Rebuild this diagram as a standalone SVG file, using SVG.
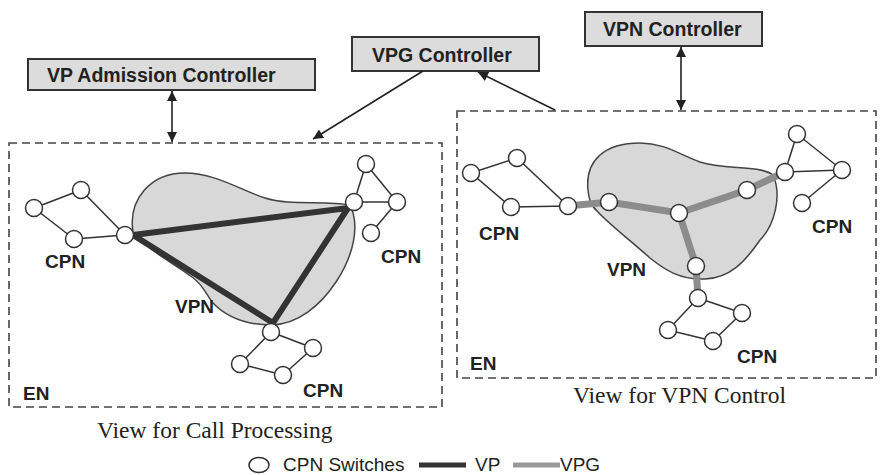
<svg xmlns="http://www.w3.org/2000/svg" width="886" height="475" viewBox="0 0 886 475">
<defs>
<marker id="ah" viewBox="0 0 10 10" refX="10" refY="5" markerWidth="12" markerHeight="10" markerUnits="userSpaceOnUse" orient="auto-start-reverse">
<path d="M0,0 L10,5 L0,10 Z" fill="#222"/>
</marker>
<style>
.ctl rect{fill:#dcdcdc;stroke:#333;stroke-width:2}
.ctl text{font-family:"Liberation Sans",Arial,sans-serif;font-weight:bold;font-size:19.5px;fill:#222}
.lbl{font-family:"Liberation Sans",Arial,sans-serif;font-weight:bold;font-size:19px;fill:#222}
.cap{font-family:"Liberation Serif","Times New Roman",serif;font-size:23.5px;fill:#222}
.leg{font-family:"Liberation Sans",Arial,sans-serif;font-size:19px;fill:#222}
.frame{fill:none;stroke:#444;stroke-width:1.6;stroke-dasharray:8,5}
.blob{fill:#d8d8d8;stroke:#444;stroke-width:1.5}
.sw{fill:#fff;stroke:#333;stroke-width:1.5}
.lk{stroke:#333;stroke-width:1.5;fill:none}
.vp{stroke:#333;stroke-width:6;fill:none;stroke-linecap:round}
.vpg{stroke:#8c8c8c;stroke-width:7;fill:none}
.arr{stroke:#222;stroke-width:1.6;fill:none;marker-end:url(#ah)}
.darr{stroke:#222;stroke-width:1.6;fill:none;marker-end:url(#ah);marker-start:url(#ah)}
</style>
</defs>

<!-- Controllers -->
<g id="vp-admission-controller" class="ctl">
<rect x="28" y="59" width="287" height="31"/>
<text x="47" y="82">VP Admission Controller</text>
</g>
<g id="vpg-controller" class="ctl">
<rect x="352" y="37" width="187" height="34"/>
<text x="372" y="62">VPG Controller</text>
</g>
<g id="vpn-controller" class="ctl">
<rect x="585" y="12" width="177" height="34"/>
<text x="603" y="36">VPN Controller</text>
</g>

<!-- Left view: Call Processing -->
<g id="view-call-processing">
<rect class="frame" x="9" y="143" width="433" height="264"/>
<path class="blob" d="M133,232 C128,200 150,173 185,173 C215,173 240,190 265,198 C290,206 325,200 350,205 C360,225 354,255 336,282 C320,306 298,324 272,325 C245,325 225,316 212,302 C205,292 203,285 192,277 C172,262 150,252 133,232 Z"/>
<text class="lbl" x="45" y="268">CPN</text>
<text class="lbl" x="381" y="263">CPN</text>
<text class="lbl" x="303" y="397">CPN</text>
<text class="lbl" x="175" y="313">VPN</text>
<text class="lbl" x="23" y="400">EN</text>
</g>
<g id="view-vpn-control">
<rect class="frame" x="457" y="111" width="419" height="267"/>
<path class="blob" d="M588,190 C585,160 605,143 640,143 C665,143 680,155 700,162 C725,170 760,165 773,175 C782,195 775,225 760,240 C745,262 730,278 705,279 C680,280 665,270 650,258 C630,240 610,225 598,212 C590,205 589,198 588,190 Z"/>
<text class="lbl" x="479" y="240">CPN</text>
<text class="lbl" x="812" y="233">CPN</text>
<text class="lbl" x="737" y="363">CPN</text>
<text class="lbl" x="607" y="276">VPN</text>
<text class="lbl" x="470" y="370">EN</text>
</g>

<!-- Connectors -->
<g id="connectors">
<line class="darr" x1="172" y1="91" x2="172" y2="142"/>
<line class="arr" x1="423" y1="71" x2="313" y2="139"/>
<line class="arr" x1="555" y1="110" x2="478" y2="72"/>
<line class="darr" x1="681" y1="47" x2="681" y2="110"/>
<!-- left CPN links -->
<line class="lk" x1="34" y1="208" x2="81" y2="190"/>
<line class="lk" x1="34" y1="208" x2="74" y2="239"/>
<line class="lk" x1="81" y1="190" x2="125" y2="235"/>
<line class="lk" x1="74" y1="239" x2="125" y2="235"/>
<line class="lk" x1="366" y1="164" x2="354" y2="202"/>
<line class="lk" x1="366" y1="164" x2="397" y2="202"/>
<line class="lk" x1="354" y1="202" x2="397" y2="202"/>
<line class="lk" x1="397" y1="202" x2="371" y2="233"/>
<line class="lk" x1="271" y1="332" x2="313" y2="348"/>
<line class="lk" x1="271" y1="332" x2="240" y2="364"/>
<line class="lk" x1="240" y1="364" x2="283" y2="375"/>
<line class="lk" x1="283" y1="375" x2="313" y2="348"/>
<!-- VP triangle -->
<polygon class="vp" points="133,235 348,208 273,323"/>
<!-- right CPN links -->
<line class="lk" x1="471" y1="173" x2="517" y2="158"/>
<line class="lk" x1="471" y1="173" x2="511" y2="207"/>
<line class="lk" x1="517" y1="158" x2="568" y2="206"/>
<line class="lk" x1="511" y1="207" x2="568" y2="206"/>
<line class="lk" x1="797" y1="134" x2="785" y2="172"/>
<line class="lk" x1="797" y1="134" x2="842" y2="170"/>
<line class="lk" x1="785" y1="172" x2="842" y2="170"/>
<line class="lk" x1="842" y1="170" x2="802" y2="203"/>
<line class="lk" x1="698" y1="298" x2="742" y2="313"/>
<line class="lk" x1="698" y1="298" x2="668" y2="330"/>
<line class="lk" x1="668" y1="330" x2="713" y2="341"/>
<line class="lk" x1="713" y1="341" x2="742" y2="313"/>
<!-- VPG tree -->
<polyline class="vpg" points="568,206 609,202 679,213 747,190 785,172"/>
<polyline class="vpg" points="679,213 696,266 698,298"/>
</g>

<!-- Switches -->
<g id="switches" class="sw">
<circle cx="34" cy="208" r="8.5"/>
<circle cx="81" cy="190" r="8.5"/>
<circle cx="74" cy="239" r="8.5"/>
<circle cx="125" cy="235" r="8.5"/>
<circle cx="366" cy="164" r="8.5"/>
<circle cx="354" cy="202" r="8.5"/>
<circle cx="397" cy="202" r="8.5"/>
<circle cx="371" cy="233" r="8.5"/>
<circle cx="271" cy="332" r="8.5"/>
<circle cx="313" cy="348" r="8.5"/>
<circle cx="240" cy="364" r="8.5"/>
<circle cx="283" cy="375" r="8.5"/>
<circle cx="471" cy="173" r="8.5"/>
<circle cx="517" cy="158" r="8.5"/>
<circle cx="511" cy="207" r="8.5"/>
<circle cx="568" cy="206" r="8.5"/>
<circle cx="609" cy="202" r="8.5"/>
<circle cx="679" cy="213" r="8.5"/>
<circle cx="747" cy="190" r="8.5"/>
<circle cx="696" cy="266" r="8.5"/>
<circle cx="785" cy="172" r="8.5"/>
<circle cx="797" cy="134" r="8.5"/>
<circle cx="842" cy="170" r="8.5"/>
<circle cx="802" cy="203" r="8.5"/>
<circle cx="698" cy="298" r="8.5"/>
<circle cx="742" cy="313" r="8.5"/>
<circle cx="668" cy="330" r="8.5"/>
<circle cx="713" cy="341" r="8.5"/>
</g>

<!-- Captions -->
<text class="cap" x="97" y="438">View for Call Processing</text>
<text class="cap" x="573" y="403">View for VPN Control</text>

<!-- Legend -->
<g id="legend">
<ellipse cx="259" cy="465" rx="10" ry="7.5" fill="#fff" stroke="#333" stroke-width="1.5"/>
<text class="leg" x="283" y="471">CPN Switches</text>
<line x1="419" y1="465" x2="466" y2="465" stroke="#333" stroke-width="5"/>
<text class="leg" x="475" y="471">VP</text>
<line x1="513" y1="465" x2="560" y2="465" stroke="#999" stroke-width="5"/>
<text class="leg" x="560" y="471">VPG</text>
</g>
</svg>
